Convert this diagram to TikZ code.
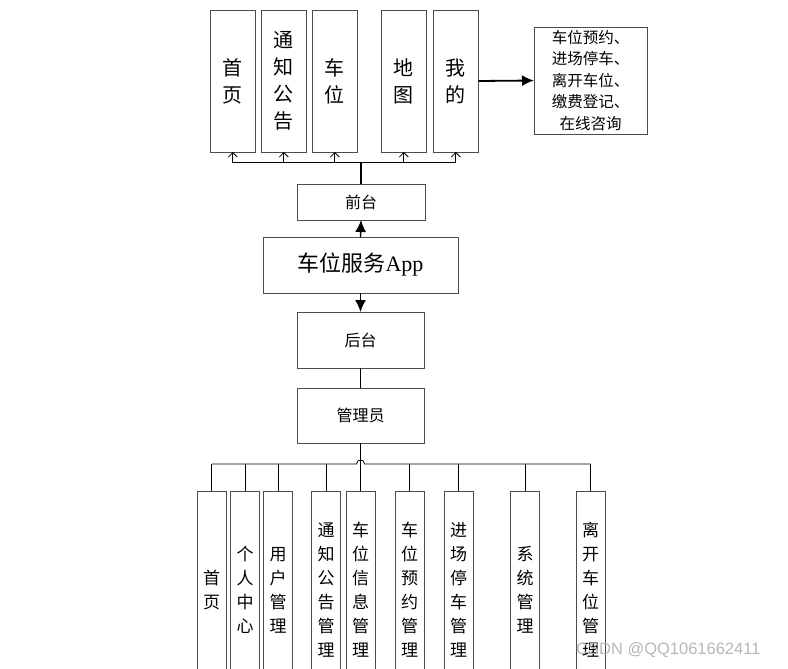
\documentclass[tikz,border=0pt]{standalone}
\usepackage{fontspec}
\setmainfont{Liberation Serif}
\newfontfamily\cjk{Noto Sans CJK SC}
\newfontfamily\wmfont{Liberation Sans}
\usetikzlibrary{arrows.meta}
\begin{document}
\begin{tikzpicture}[x=1pt,y=-1pt,
  box/.style={draw=black!70, line width=0.9pt, fill=white, inner sep=0pt, outer sep=0pt, anchor=north west, align=center},
  topbox/.style={box, minimum width=45.5pt, minimum height=142pt, font=\cjk\fontsize{20}{27}\selectfont},
  midbox/.style={box, font=\cjk\fontsize{16}{20}\selectfont},
  botbox/.style={box, minimum width=29pt, minimum height=198pt, font=\cjk\fontsize{17}{24}\selectfont},
  conn/.style={draw=black, line width=0.8pt},
  trunk/.style={draw=black, line width=1.4pt},
  openarrow/.style={conn, -{Straight Barb[length=4.5pt,width=9pt]}},
  bigarrow/.style={trunk, -{Latex[length=12pt,width=11pt]}}
]
\useasboundingbox (0,0) rectangle (788,669);
\clip (0,0) rectangle (788,669);
\fill[white] (0,0) rectangle (788,669);

% top boxes
\node[topbox] (t1) at (210,10) {首\\页};
\node[topbox] (t2) at (261,10) {通\\知\\公\\告};
\node[topbox] (t3) at (312,10) {车\\位};
\node[topbox] (t4) at (381,10) {地\\图};
\node[topbox] (t5) at (433,10) {我\\的};

% info box
\node[box, minimum width=113pt, minimum height=107pt, font=\cjk\fontsize{15.5}{21.5}\selectfont] (info) at (534,27)
  {车位预约、\\进场停车、\\离开车位、\\缴费登记、\\在线咨询};
\draw[bigarrow, line width=1.8pt] (t5.east) -- (info.west);

% middle column
\node[midbox, minimum width=128pt, minimum height=36pt] (qt) at (297,184) {前台};
\node[box, minimum width=195pt, minimum height=56pt, font=\fontsize{22}{26}\selectfont] (app) at (263,237) {{\cjk 车位服务}App};
\node[midbox, minimum width=127pt, minimum height=56pt] (ht) at (297,312) {后台};
\node[midbox, minimum width=127pt, minimum height=55pt] (gly) at (297,388) {管理员};

% top bus
\coordinate (tb) at (qt.north |- 0,162);
\draw[trunk] (qt.north) -- (tb);
\foreach \t in {t1,t2,t3,t4,t5}{
  \draw[openarrow] (tb) -| (\t.south);
}

\draw[bigarrow] (app.north) -- (qt.south);
\draw[bigarrow] (app.south) -- (ht.north);
\draw[trunk] (ht.south) -- (gly.north);

% bottom boxes
\node[botbox] (b1) at (197,491) {首\\页};
\node[botbox] (b2) at (230.5,491) {个\\人\\中\\心};
\node[botbox] (b3) at (263.5,491) {用\\户\\管\\理};
\node[botbox] (b4) at (311.5,491) {通\\知\\公\\告\\管\\理};
\node[botbox] (b5) at (346,491) {车\\位\\信\\息\\管\\理};
\node[botbox] (b6) at (395,491) {车\\位\\预\\约\\管\\理};
\node[botbox] (b7) at (444,491) {进\\场\\停\\车\\管\\理};
\node[botbox] (b8) at (510.7,491) {系\\统\\管\\理};
\node[botbox] (b9) at (576,491) {离\\开\\车\\位\\管\\理};

% bottom bus with hop
\coordinate (bl) at (b1.north |- 0,464);
\coordinate (br) at (b9.north |- 0,464);
\coordinate (hl) at ([xshift=-4pt]b5.north |- 0,464);
\coordinate (hr) at ([xshift=4pt]b5.north |- 0,464);
\draw[conn] (bl) -- (hl) .. controls ([yshift=5.3pt]hl) and ([yshift=5.3pt]hr) .. (hr) -- (br);
\draw[trunk] (gly.south) -- (b5.north);
\foreach \b in {b1,b2,b3,b4,b6,b7,b8,b9}{
  \draw[conn] (\b.north |- bl) -- (\b.north);
}

% watermark
\node[anchor=west, text=black!28, font=\wmfont\fontsize{16.5}{18}\selectfont, inner sep=0pt] (wm) at (576,650) {CSDN @QQ1061662411};
\end{tikzpicture}
\end{document}
